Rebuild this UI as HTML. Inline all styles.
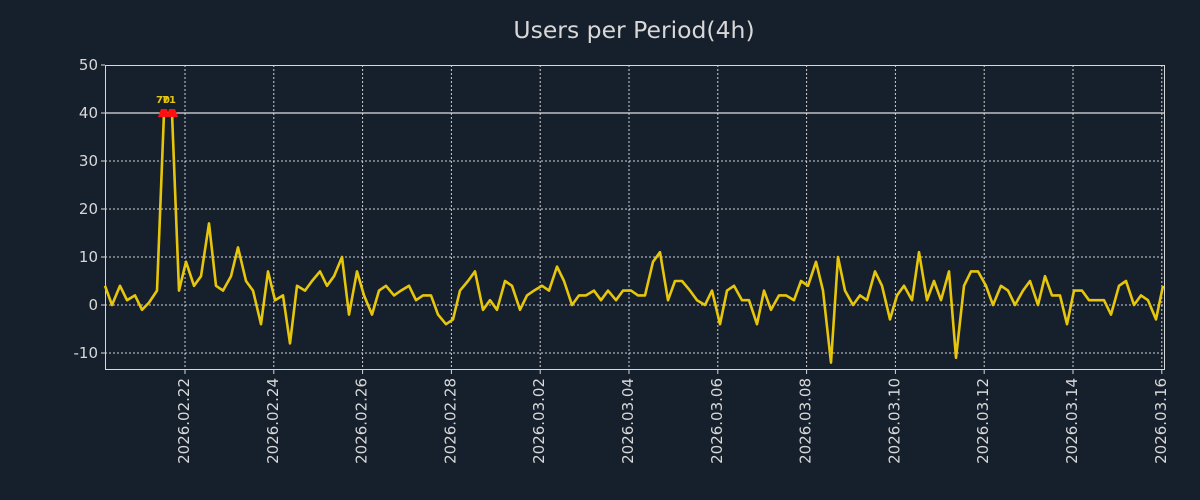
<!DOCTYPE html>
<html><head><meta charset="utf-8"><style>
body{margin:0;background:#161f2c;}
svg{display:block;font-family:"DejaVu Sans","Liberation Sans",sans-serif;}
</style></head><body>
<svg id="s" width="1200" height="500" xmlns="http://www.w3.org/2000/svg">
<rect width="1200" height="500" fill="#161f2c"/>
<text x="634" y="38" text-anchor="middle" font-size="23.5" fill="#d8d8d8">Users per Period(4h)</text>
<g id="grid" stroke="#d0d0d0" stroke-width="1" stroke-dasharray="2,2" fill="none"></g>
<line x1="105" y1="113" x2="1164" y2="113" stroke="#e0e0e0" stroke-width="1.3"/>
<rect x="105.5" y="65.5" width="1059" height="304" fill="none" stroke="#d8d8d8" stroke-width="1"/>
<g id="labels" font-size="15" fill="#d8d8d8"></g>
<polyline id="line" fill="none" stroke="#e6c60c" stroke-width="2.6" stroke-linejoin="round"/>
<path d="M158 117 L161 109 L167 109 L168 113 L169 109 L175 109 L178 117 Z" fill="#ff1010"/>
<text x="156" y="103" font-size="10" font-weight="bold" fill="#e6c60c">70</text>
<text x="162" y="103" font-size="10" font-weight="bold" fill="#e6c60c">71</text>
</svg>
<script>
var d=[[105,4],[112,0],[120,4],[127,1],[135,2],[142,-1],[149,0.5],[157,3],[164,40],[172,40],[179,3],[186,9],[194,4],[201,6],[209,17],[216,4],[223,3],[231,6],[238,12],[246,5],[253,3],[261,-4],[268,7],[275,1],[283,2],[290,-8],[297,4],[305,3],[312,5],[320,7],[327,4],[334,6],[342,10],[349,-2],[357,7],[364,2],[372,-2],[379,3],[386,4],[394,2],[401,3],[409,4],[416,1],[423,2],[431,2],[438,-2],[446,-4],[453,-3],[460,3],[468,5],[475,7],[483,-1],[490,1],[497,-1],[505,5],[512,4],[520,-1],[527,2],[534,3],[542,4],[549,3],[557,8],[564,5],[572,0],[579,2],[586,2],[594,3],[601,1],[608,3],[616,1],[623,3],[631,3],[638,2],[645,2],[653,9],[660,11],[668,1],[675,5],[682,5],[690,3],[697,1],[705,0],[712,3],[720,-4],[727,3],[734,4],[742,1],[749,1],[757,-4],[764,3],[771,-1],[779,2],[786,2],[794,1],[801,5],[808,4],[816,9],[823,3],[831,-12],[838,10],[845,3],[853,0],[860,2],[867,1],[875,7],[882,4],[890,-3],[897,2],[904,4],[912,1],[919,11],[927,1],[934,5],[941,1],[949,7],[956,-11],[964,4],[971,7],[978,7],[986,4],[993,0],[1001,4],[1008,3],[1015,0],[1023,3],[1030,5],[1038,0],[1045,6],[1052,2],[1060,2],[1067,-4],[1074,3],[1082,3],[1089,1],[1097,1],[1104,1],[1111,-2],[1119,4],[1126,5],[1134,0],[1141,2],[1148,1],[1156,-3],[1163,4]];
document.getElementById('line').setAttribute('points',d.map(p=>p[0]+','+(305-p[1]*4.8).toFixed(1)).join(' '));
var ns="http://www.w3.org/2000/svg",g=document.getElementById('grid'),L=document.getElementById('labels');
function el(t,a,p,txt){var e=document.createElementNS(ns,t);for(var k in a)e.setAttribute(k,a[k]);if(txt)e.textContent=txt;p.appendChild(e);return e;}
for(var v=-10;v<=50;v+=10){var y=305-v*4.8;if(v!=40&&v!=50)el('line',{x1:105,x2:1164,y1:y,y2:y},g);
el('line',{x1:101,x2:105,y1:y,y2:y,stroke:'#d8d8d8'},L);el('text',{x:98,y:y+5,'text-anchor':'end'},L,String(v));}
var dates=['2026.02.22','2026.02.24','2026.02.26','2026.02.28','2026.03.02','2026.03.04','2026.03.06','2026.03.08','2026.03.10','2026.03.12','2026.03.14','2026.03.16'];
dates.forEach(function(s,i){var x=185+i*88.8;el('line',{x1:x,x2:x,y1:65,y2:369},g);
el('line',{x1:x,x2:x,y1:369,y2:374,stroke:'#d8d8d8'},L);
el('text',{x:0,y:0,'text-anchor':'end',transform:'translate('+(x+4)+',378) rotate(-90)'},L,s);});
</script>
</body></html>
